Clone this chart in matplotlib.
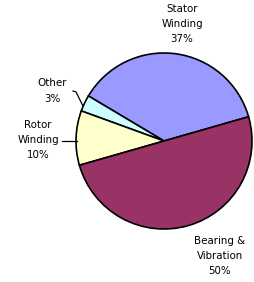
import matplotlib
matplotlib.use("Agg")
import matplotlib.pyplot as plt

categories = ["Stator\nWinding", "Other", "Rotor\nWinding", "Bearing &\nVibration"]
values = [37, 3, 10, 50]
colors = ["#9999FF", "#CCFFFF", "#FFFFCC", "#993366"]

W, H = 255, 282
fig = plt.figure(figsize=(W / 100, H / 100), dpi=100)
ax = fig.add_axes([0, 0, 1, 1])
ax.set_xlim(0, W)
ax.set_ylim(0, H)
ax.set_aspect("equal")
ax.axis("off")

cx, cy, r = 164, H - 141, 88
ax.pie(values, colors=colors, startangle=16, counterclock=True,
       center=(cx, cy), radius=r,
       wedgeprops=dict(edgecolor="black", linewidth=1.2))
ax.set_xlim(0, W)
ax.set_ylim(0, H)

label_pos = [(182, H - 24), (52, H - 91), (38, H - 140), (220, H - 256)]
for cat, v, (x, y) in zip(categories, values, label_pos):
    ax.text(x, y, f"{cat}\n{v}%", ha="center", va="center", fontsize=7.4,
            color="black", linespacing=1.65, family="DejaVu Sans")

# leader lines
ax.plot([73, 76, 83], [H - 91, H - 92, H - 106], color="black", lw=0.9)
ax.plot([62, 77], [H - 141, H - 141], color="black", lw=0.9)

fig.savefig("out.png", dpi=100)
